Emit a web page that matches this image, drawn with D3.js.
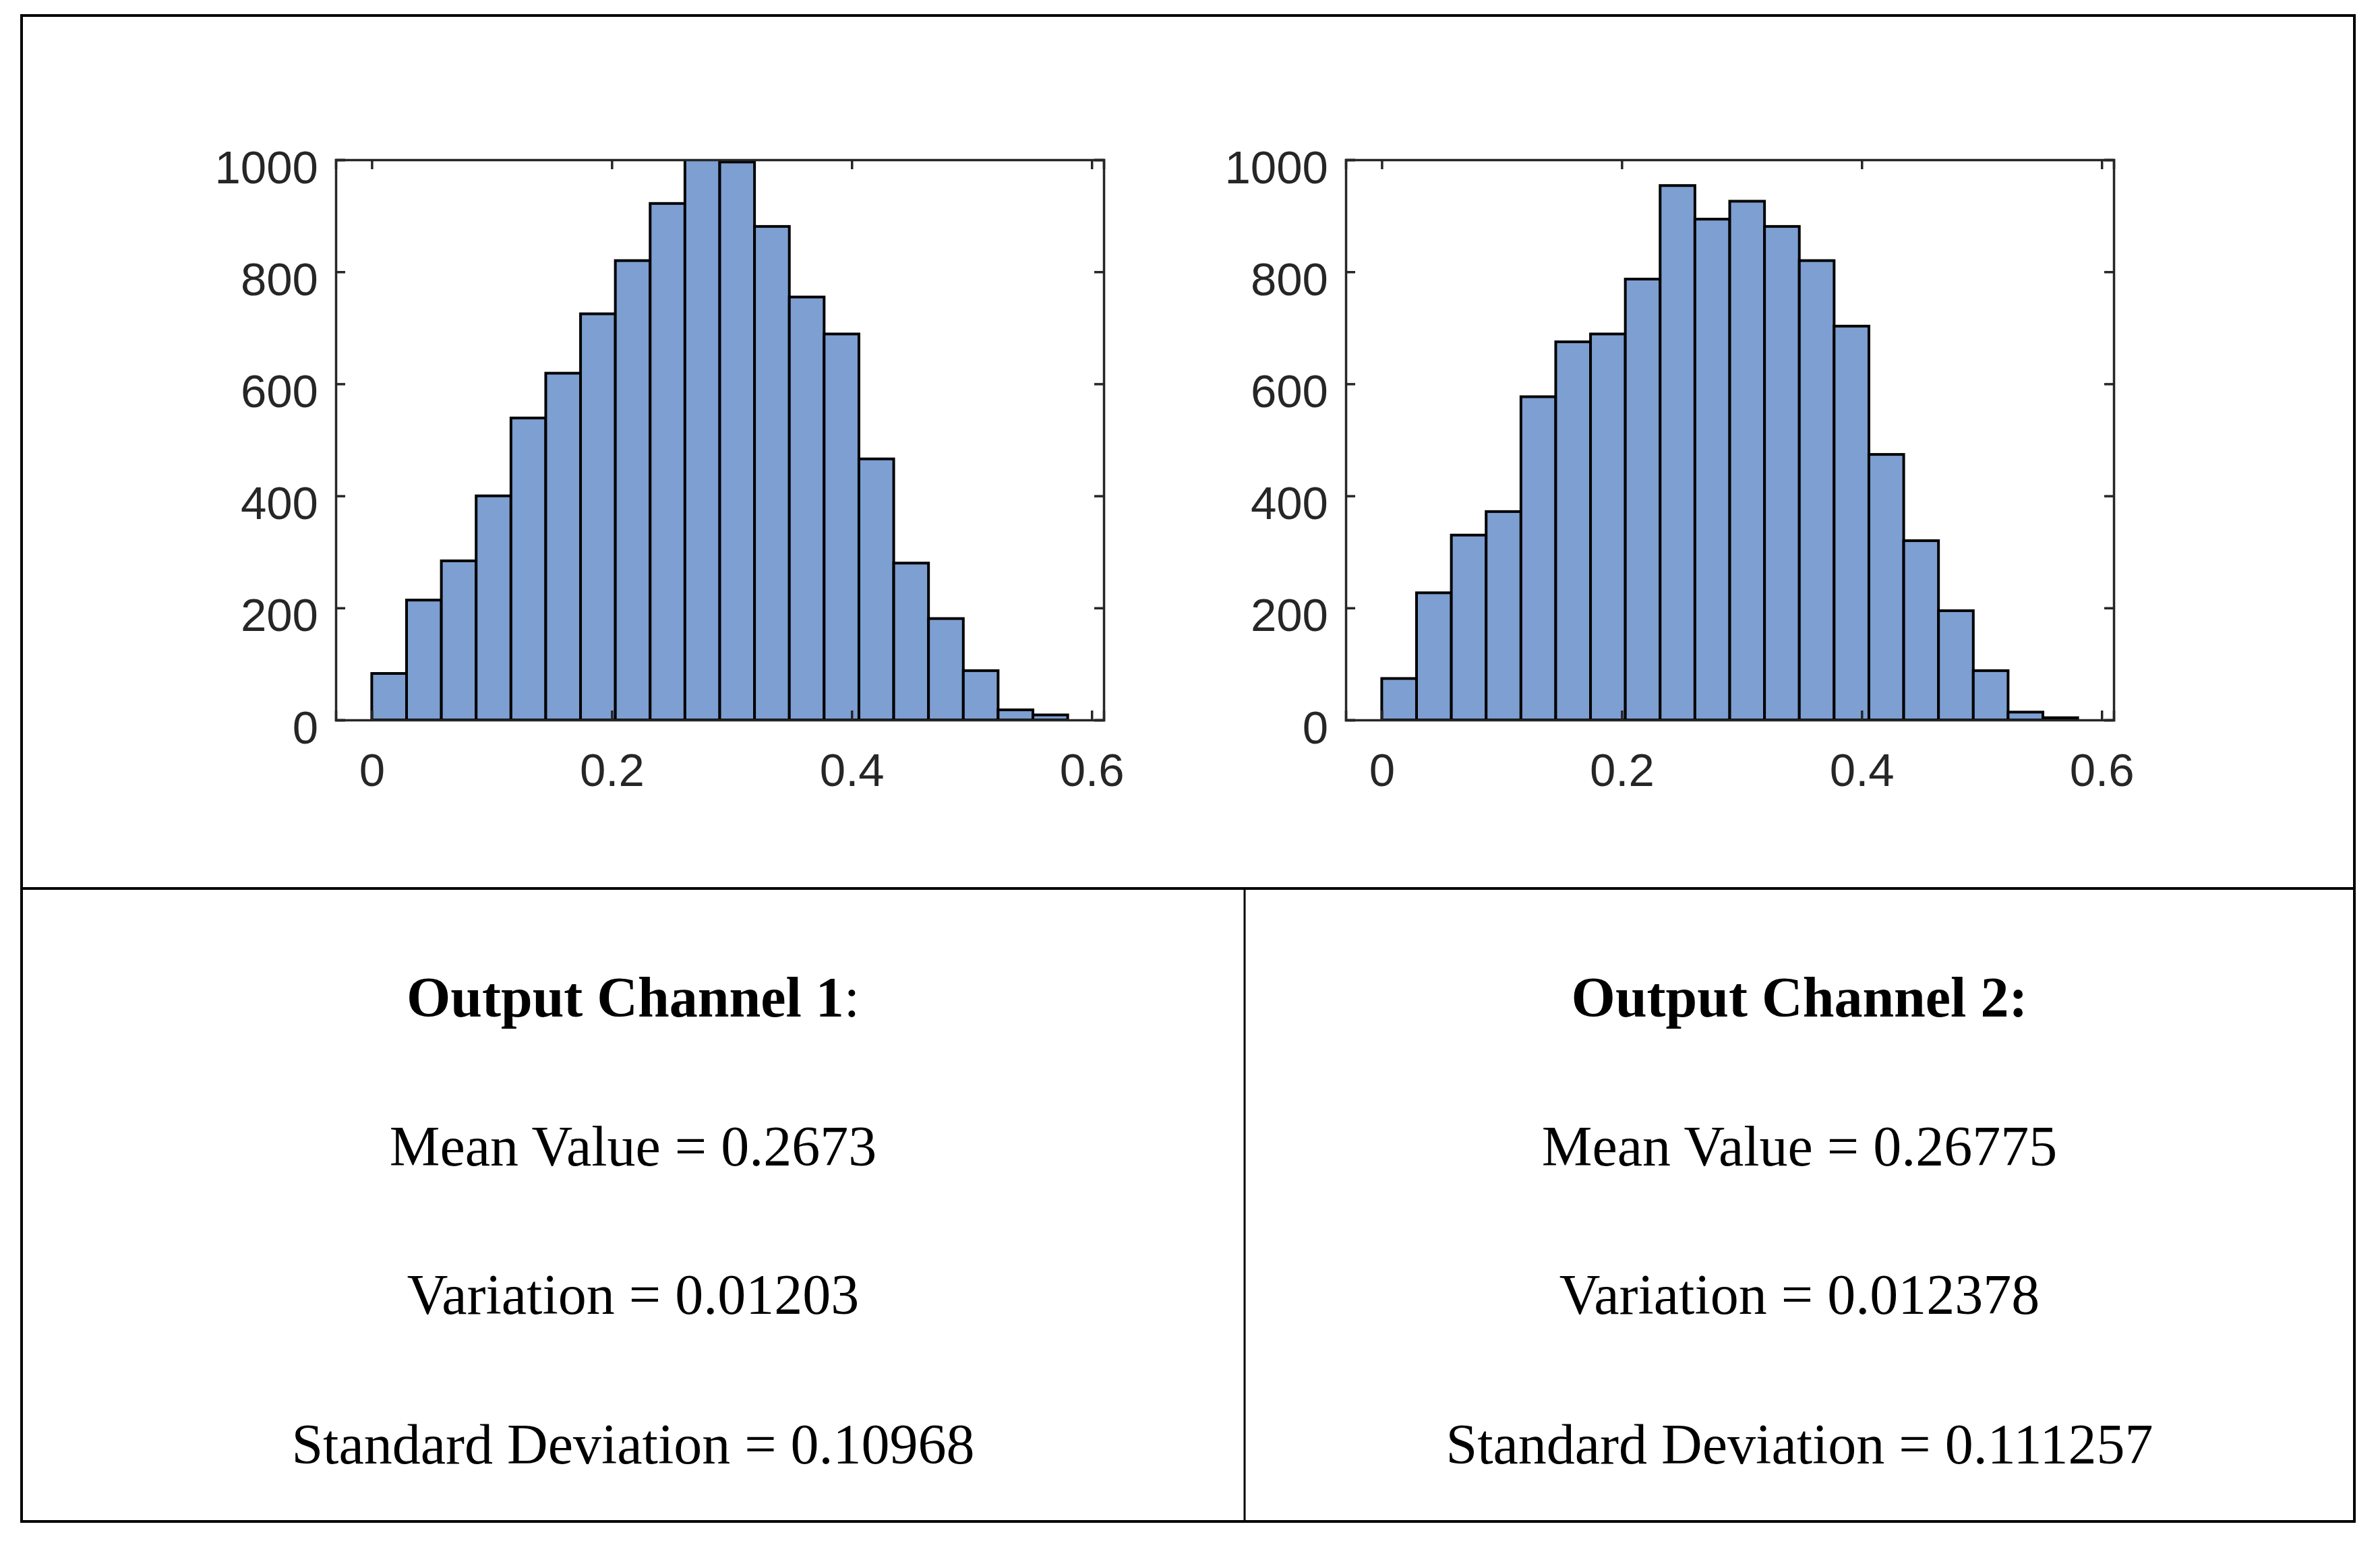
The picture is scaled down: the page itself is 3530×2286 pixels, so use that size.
<!DOCTYPE html>
<html>
<head>
<meta charset="utf-8">
<script src="https://cdn.jsdelivr.net/npm/d3@7"></script>
<style>
  html, body { margin: 0; padding: 0; background: #fff; }
  svg { display: block; }
</style>
</head>
<body>
<svg id="chart" width="3530" height="2286"></svg>
<script>
// histogram bin edges (same for both channels)
const binEdges = [0, 0.029, 0.058, 0.087, 0.116, 0.145, 0.174, 0.203, 0.232, 0.261,
                  0.29, 0.319, 0.348, 0.377, 0.406, 0.435, 0.464, 0.493, 0.522, 0.551, 0.58];

const channel1Counts = [83, 214, 284, 400, 539, 619, 725, 820, 922, 1000,
                        996, 881, 755, 689, 466, 280, 181, 88, 18, 9];
const channel2Counts = [74, 227, 330, 372, 577, 675, 689, 787, 954, 894,
                        926, 881, 820, 703, 474, 320, 195, 88, 14, 4];

const xTicks = [0, 0.2, 0.4, 0.6];
const yTicks = [0, 200, 400, 600, 800, 1000];

const statTitles = ["Output Channel 1", "Output Channel 2"];
const meanValues = ["0.2673", "0.26775"];
const variations = ["0.01203", "0.012378"];
const stdDevs = ["0.10968", "0.111257"];

const svg = d3.select("#chart");
svg.append("rect").attr("width", 3530).attr("height", 2286).attr("fill", "#fff");

const AXIS = "#262626";
const BAR = "#7d9fd1";

const drawHist = function(counts, left) {
    const x = d3.scaleLinear().domain([-0.03, 0.61]).range([left, left + 1139]);
    const y = d3.scaleLinear().domain([0, 1000]).range([1068, 237]);
    const g = svg.append("g");

    const bins = counts.map((c, i) => ({x0: binEdges[i], x1: binEdges[i + 1], n: c}));

    g.append("clipPath").attr("id", "clip" + left)
        .append("rect")
        .attr("x", x.range()[0]).attr("y", y(1000))
        .attr("width", x.range()[1] - x.range()[0]).attr("height", y(0) - y(1000));

    g.append("g").attr("clip-path", "url(#clip" + left + ")")
        .selectAll("rect")
        .data(bins)
        .enter().append("rect")
        .attr("x", d => x(d.x0))
        .attr("y", d => y(d.n))
        .attr("width", d => x(d.x1) - x(d.x0))
        .attr("height", d => y(0) - y(d.n))
        .attr("fill", BAR)
        .attr("stroke", "#000")
        .attr("stroke-width", 4);

    const font = g => g.selectAll("text")
        .attr("font-family", "'Liberation Sans', Arial, sans-serif")
        .attr("font-size", 69)
        .attr("fill", AXIS);

    // bottom / left axes with labels, ticks pointing inward
    const xb = g.append("g").attr("transform", `translate(0,${y(0)})`)
        .call(d3.axisBottom(x).tickValues(xTicks).tickSize(-14).tickPadding(0)
            .tickFormat(d => d === 0 ? "0" : d3.format(".1f")(d)));
    xb.selectAll("text").attr("dy", 0).attr("y", 98);
    font(xb);

    const yl = g.append("g").attr("transform", `translate(${x.range()[0]},0)`)
        .call(d3.axisLeft(y).tickValues(yTicks).tickSize(-14).tickPadding(0).tickFormat(d3.format("d")));
    yl.selectAll("text").attr("dy", 0).attr("x", -26).attr("y", 34);
    font(yl);

    // top / right axes, ticks only
    g.append("g").attr("transform", `translate(0,${y(1000)})`)
        .call(d3.axisTop(x).tickValues(xTicks).tickSize(-14).tickFormat(""));
    g.append("g").attr("transform", `translate(${x.range()[1]},0)`)
        .call(d3.axisRight(y).tickValues(yTicks).tickSize(-14).tickFormat(""));

    g.selectAll(".domain").attr("stroke", AXIS).attr("stroke-width", 3.5);
    g.selectAll(".tick line").attr("stroke", AXIS).attr("stroke-width", 3.5);
};

drawHist(channel1Counts, 498);
drawHist(channel2Counts, 1996);

// table frame
const frame = svg.append("g").attr("fill", "none").attr("stroke", "#000");
frame.append("rect").attr("x", 32).attr("y", 23).attr("width", 3460).attr("height", 2234).attr("stroke-width", 4);
frame.append("line").attr("x1", 32).attr("x2", 3492).attr("y1", 1318).attr("y2", 1318).attr("stroke-width", 4);
frame.append("line").attr("x1", 1846).attr("x2", 1846).attr("y1", 1318).attr("y2", 2257).attr("stroke-width", 3);

// statistics text
const centers = [939, 2669];
const serif = "'Liberation Serif', 'Times New Roman', serif";
centers.forEach((cx, i) => {
    const t = svg.append("text").attr("x", cx).attr("y", 1508)
        .attr("text-anchor", "middle").attr("font-family", serif)
        .attr("font-size", 84).attr("fill", "#000");
    t.append("tspan").attr("font-weight", "bold").text(statTitles[i]);
    t.append("tspan").attr("font-weight", i === 0 ? "normal" : "bold").text(":");

    const lines = ["Mean Value = " + meanValues[i],
                   "Variation = " + variations[i],
                   "Standard Deviation = " + stdDevs[i]];
    const ys = [1729, 1949, 2171];
    lines.forEach((s, k) => {
        svg.append("text").attr("x", cx).attr("y", ys[k])
            .attr("text-anchor", "middle").attr("font-family", serif)
            .attr("font-size", 84).attr("fill", "#000").text(s);
    });
});
</script>
</body>
</html>
